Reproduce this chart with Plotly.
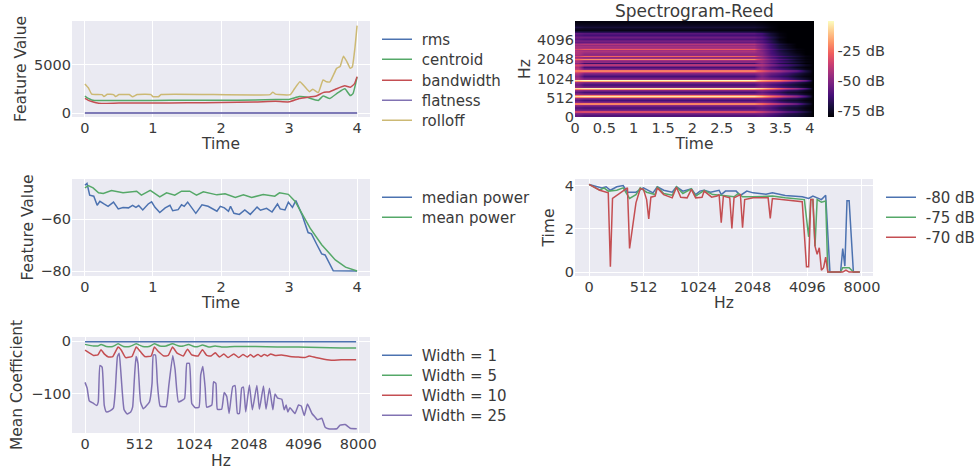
import plotly.graph_objects as go
from plotly.colors import sequential

W, H = 974, 471
BLUE, GREEN, RED, PURPLE, GOLD = "#4C72B0", "#55A868", "#C44E52", "#8172B2", "#CCB974"
TXT = "#3a3a3a"
FONT = "DejaVu Sans"

# ---- panel 1: spectral features over time
t_rolloff = [0, .05, .1, .25, .28, .33, .42, .45, .5, .65, .7, .77, .97, 1.0, 1.08, 1.12, 2.72, 2.76, 2.8, 2.85, 3.02, 3.08, 3.16, 3.22, 3.3, 3.35, 3.43, 3.5, 3.55, 3.6, 3.7, 3.75, 3.8, 3.85, 3.9, 3.93, 3.97, 4.0]
rolloff = [3000, 2600, 1950, 1900, 1700, 1930, 1900, 1700, 1900, 1900, 1680, 1900, 1900, 1680, 1680, 1900, 1900, 2150, 1950, 1900, 1900, 2500, 3230, 2800, 2200, 2450, 2100, 3400, 3230, 3200, 4600, 4800, 5850, 5300, 4600, 4760, 6800, 9000]
t_bandwidth = [0, .05, .1, .2, .5, 1, 1.5, 2, 2.5, 2.8, 3, 3.15, 3.25, 3.4, 3.5, 3.6, 3.7, 3.82, 3.9, 3.96, 4]
bandwidth = [1500, 1300, 1180, 1000, 1020, 1020, 1050, 1090, 1130, 1200, 1150, 1500, 1600, 1750, 2100, 2200, 2500, 2800, 2650, 3000, 3750]
t_centroid = [0, .05, .1, .2, .5, 1, 1.5, 2, 2.5, 2.8, 3, 3.15, 3.25, 3.43, 3.5, 3.6, 3.72, 3.82, 3.9, 3.94, 4]
centroid = [1750, 1500, 1350, 1280, 1300, 1300, 1320, 1310, 1340, 1400, 1400, 1700, 1650, 1300, 1750, 1500, 2100, 2500, 1800, 2000, 3700]
t_flat = [0, 4]
rms = [5, 5]
flatness = [1, 1]

# ---- panel 3: power over time
t_median = [0, .03, .07, .13, .18, .22, .28, .34, .42, .49, .56, .64, .70, .75, .79, .85, .93, .98, 1.03, 1.10, 1.18, 1.25, 1.29, 1.37, 1.42, 1.46, 1.51, 1.57, 1.63, 1.72, 1.81, 1.94, 1.99, 2.05, 2.11, 2.14, 2.19, 2.27, 2.35, 2.43, 2.53, 2.58, 2.67, 2.75, 2.83, 2.87, 2.94, 2.99, 3.05, 3.10, 3.19, 3.28, 3.33, 3.41, 3.48, 3.53, 3.58, 3.65, 4.0]
median_power = [-47, -46.3, -50.8, -51.2, -54.7, -53.2, -54.2, -55.1, -53.5, -56.1, -55.6, -55.7, -54.7, -55.5, -54.8, -56.5, -54.2, -53.4, -55.5, -57.5, -55.7, -54.7, -56.8, -56.4, -54.5, -55.1, -53.5, -55.7, -57.8, -54.5, -55.1, -57, -55.1, -55.7, -57, -55.1, -57.8, -58.2, -56.5, -58.2, -55.4, -56.6, -55.9, -57.3, -54.2, -56.1, -56.5, -53.5, -55.5, -52.9, -58.3, -65.2, -65.7, -69.9, -73.4, -73.8, -76.4, -79.9, -80]
t_mean = [0, .05, .12, .2, .27, .39, .56, .76, .83, .96, 1.10, 1.2, 1.32, 1.42, 1.54, 1.64, 1.74, 1.94, 2.06, 2.21, 2.33, 2.45, 2.62, 2.79, 2.86, 2.99, 3.09, 3.31, 3.48, 3.68, 3.83, 4.0]
mean_power = [-48, -47.1, -48, -49.9, -50.2, -49, -49.9, -49.3, -50.8, -49, -51.5, -49.9, -50.8, -49.3, -49.3, -50.8, -49.5, -50.7, -50.3, -51.7, -50.7, -51.7, -50.6, -51.2, -49.9, -50.5, -53.2, -63.5, -69.9, -75.7, -78.5, -80]

# ---- panel 4: decay time by mel bin
bin_70 = [0, 5, 9, 10, 11, 18, 19, 22, 24, 25.5, 27, 28, 29, 31, 32, 35, 39, 41, 43, 46, 48, 50, 53, 54, 57.5, 60, 61, 62, 63, 66, 67, 68, 71, 72, 73, 77, 84, 85, 86, 91, 100, 102, 103, 104, 105, 106, 107, 108, 109, 110, 111, 112, 119, 120.5, 122, 127]
db_70 = [4.05, 3.78, 3.66, .25, 3.4, 3.89, 1.09, 3.2, 3.85, 3.82, 3.35, 2.46, 3.46, 3.51, 3.89, 3.58, 3.43, 3.92, 3.46, 3.43, 3.82, 3.43, 3.46, 3.74, 3.46, 3.51, 3.58, 2.28, 3.51, 3.43, 2.02, 3.43, 3.58, 2.05, 3.35, 3.43, 3.43, 2.48, 3.4, 3.35, 3.25, .25, .25, 3.35, 3.35, 1.2, .82, 1.12, .09, .2, .69, 0, 0, .09, 0, 0]
bin_75 = [0, 5, 7, 9, 13, 16, 19, 22, 24, 27, 31, 32, 35, 39, 41, 44, 48, 50, 54, 58, 63, 68, 70, 72, 77, 86, 92, 101, 103, 104, 105, 106, 107, 109, 111, 112, 118, 119, 122, 124, 127]
db_75 = [4.05, 3.78, 3.89, 3.74, 3.78, 3.89, 3.4, 3.58, 3.89, 3.69, 3.58, 3.94, 3.63, 3.55, 3.94, 3.63, 3.85, 3.51, 3.78, 3.58, 3.54, 3.48, 3.63, 3.48, 3.48, 3.51, 3.43, 3.35, 1.63, 3.35, 3.35, 1.2, 3.35, 3.23, 3.28, 0, 0, .2, .2, 0, 0]
bin_80 = [0, 3.6, 6, 8, 10, 13, 16, 18, 22, 25.5, 28, 30, 32, 35, 39, 41, 44, 48, 50, 52, 54, 57, 61, 62, 64, 69, 71, 74, 77, 83, 86, 92, 100, 103, 105, 109, 111, 113, 118, 119, 120, 121, 122, 124, 127]
db_80 = [4.05, 3.94, 3.89, 3.94, 3.78, 3.94, 4.0, 3.69, 3.69, 3.89, 3.78, 3.66, 3.94, 3.78, 3.69, 3.94, 3.74, 3.85, 3.58, 3.74, 3.78, 3.69, 3.78, 3.58, 3.74, 3.74, 3.54, 3.74, 3.66, 3.6, 3.66, 3.54, 3.48, 3.4, 3.51, 3.35, 3.55, 0, 0, 1.09, .28, 3.3, 3.3, 0, 0]

# ---- panel 5: mean coefficient by mel bin
bin_w1 = [0, 127]
width_1 = [-1, -1]
bin_w5 = [0, 4, 6, 7.5, 10, 13, 15.5, 18, 21, 24, 27, 30, 32.5, 35, 38, 41, 44, 46, 48.5, 51, 53, 55, 58, 61, 64, 70, 80, 90, 100, 110, 120, 127]
width_5 = [-6, -9, -9, -6, -10, -10, -5, -10, -10, -5, -10, -10, -5, -9, -9, -5, -9, -9, -6, -10, -10, -7, -11, -9, -11, -10, -10, -11, -11, -12, -13, -13]
bin_w10 = [0, 2, 4, 6, 7.5, 9, 11, 13, 15.5, 17, 19, 22, 24, 26, 28, 31, 32.5, 34, 37, 39, 41, 43, 46, 48, 50, 53, 55, 57, 59, 61, 63, 65, 67, 69.7, 72, 74, 76, 77.5, 79, 81, 82.5, 84, 85.5, 87, 89, 92, 96, 100, 103, 105, 108, 112, 116, 120, 127]
width_10 = [-17, -22, -27, -26, -16, -24, -30, -29, -11, -17, -31, -29, -11, -20, -29, -28, -11, -18, -28, -27, -11, -22, -28, -15, -26, -28, -16, -27, -28, -22, -30, -24, -31, -24, -31, -25, -30, -25, -30, -25, -29, -25, -28, -24, -27, -26, -29, -30, -31, -28, -31, -34, -36, -35, -35]
bin_w25 = [0, 1, 2, 4, 5.5, 6.2, 7, 8, 9, 10, 11.7, 13.3, 14.2, 15.2, 16, 16.7, 18.3, 19.8, 21.4, 22.3, 23.1, 23.9, 24.8, 26, 27.3, 30.2, 31.4, 32, 33, 33.9, 35.2, 38, 39.2, 41.1, 42.2, 43.8, 46.6, 47.7, 48.9, 50, 51.6, 53.4, 54.2, 55.2, 56.3, 57, 59.4, 60.2, 61.3, 62, 64, 65.2, 66.4, 67.5, 69.2, 70.3, 71.4, 72.3, 73.4, 74.2, 75.3, 77, 78.4, 80.5, 81.7, 83.6, 84.8, 86.4, 88, 89, 90.3, 92.2, 93.3, 94.2, 95, 96, 98.4, 100, 101.3, 102.7, 104.2, 106.3, 107.8, 108.9, 110.9, 112.5, 114, 118, 119.5, 121.9, 124.2, 127.3]
width_25 = [-78, -89, -113, -118, -122, -115, -46, -49, -121, -134, -132, -127, -92, -29, -23, -54, -130, -138, -134, -125, -73, -29, -42, -115, -128, -115, -80, -26, -26, -80, -123, -124, -86, -27, -54, -115, -109, -42, -42, -118, -126, -125, -64, -48, -89, -125, -121, -77, -80, -129, -129, -97, -105, -137, -86, -84, -137, -137, -89, -87, -134, -83, -130, -84, -129, -85, -129, -89, -130, -100, -108, -110, -130, -121, -134, -126, -137, -121, -123, -141, -119, -137, -144, -149, -146, -163, -166, -166, -159, -158, -165, -166]

# ---- panel 2: spectrogram levels (dB) per band and time span
spec_time_edges = [0, 0.1, 0.2, 3.0, 3.1, 3.25, 3.4, 3.55, 3.7, 3.85, 4.0, 4.09]
spec_span_of_column = [0, 1, 1, 1, 2, 3, 4, 5, 6, 7, 8]
spec_bin_edges = [0, 5.7, 6.7, 8.1, 9.1, 16, 17, 18, 19, 20, 26, 27.2, 28.2, 29.3, 30.4, 36, 37.3, 38.2, 39.2, 40, 46.7, 48, 49, 49.9, 50.7, 59.3, 60.7, 61.7, 62.7, 64,
                  68.8, 71.2, 72.8, 75.2, 76.6, 78.8, 80.3, 82.3, 83.8, 85.6, 86.8, 88.6, 90, 91.8, 93.4, 95.2, 96.4, 98.2,
                  101, 103, 106, 108, 111, 113.5, 119, 122, 125, 128]
spec_db = [
    [-56, -60, -58, -62, -66, -70, -72, -76, -80],
    [-42, -42, -46, -52, -58, -64, -68, -74, -80],
    [-28, -24, -30, -40, -46, -54, -60, -68, -80],
    [-42, -42, -46, -52, -58, -64, -68, -74, -80],
    [-60, -62, -58, -62, -68, -72, -74, -78, -80],
    [-36, -36, -38, -46, -52, -58, -62, -72, -80],
    [-8, -5, -12, -24, -32, -40, -50, -66, -80],
    [-8, -5, -12, -24, -32, -40, -50, -66, -80],
    [-38, -38, -40, -46, -54, -60, -64, -72, -80],
    [-58, -62, -58, -62, -68, -72, -74, -78, -80],
    [-36, -36, -38, -44, -52, -58, -62, -72, -80],
    [-6, -4, -10, -22, -30, -40, -48, -62, -80],
    [-6, -4, -10, -22, -30, -40, -48, -62, -80],
    [-38, -38, -40, -46, -52, -60, -64, -72, -80],
    [-58, -62, -56, -62, -66, -72, -74, -78, -80],
    [-36, -36, -38, -44, -50, -58, -62, -72, -80],
    [-6, -3, -8, -18, -28, -38, -46, -60, -80],
    [-6, -3, -8, -18, -28, -38, -46, -60, -80],
    [-38, -38, -38, -44, -50, -58, -62, -72, -80],
    [-55, -63, -56, -62, -66, -70, -74, -78, -80],
    [-34, -34, -36, -40, -44, -52, -60, -68, -80],
    [-5, -1, -12, -18, -22, -32, -42, -55, -80],
    [-5, -1, -12, -18, -22, -32, -42, -55, -80],
    [-34, -34, -36, -40, -44, -52, -60, -68, -80],
    [-48, -62, -52, -60, -64, -68, -74, -78, -80],
    [-32, -36, -40, -48, -52, -58, -64, -72, -80],
    [-14, -7, -20, -32, -38, -46, -52, -68, -80],
    [-14, -7, -20, -32, -38, -46, -52, -68, -80],
    [-32, -38, -42, -50, -54, -60, -64, -74, -80],
    [-42, -62, -50, -60, -66, -70, -76, -79, -80],
    [-24, -19, -33, -42, -50, -56, -62, -72, -80],
    [-50, -64, -50, -60, -68, -72, -76, -80, -80],
    [-32, -30, -38, -48, -54, -60, -68, -76, -80],
    [-52, -68, -52, -62, -70, -74, -78, -80, -80],
    [-24, -19, -38, -50, -58, -64, -72, -78, -80],
    [-55, -70, -54, -64, -72, -76, -78, -80, -80],
    [-34, -26, -42, -54, -60, -66, -72, -78, -80],
    [-54, -68, -55, -64, -72, -76, -78, -80, -80],
    [-30, -28, -44, -56, -62, -68, -74, -80, -80],
    [-52, -64, -54, -66, -72, -76, -80, -80, -80],
    [-30, -24, -44, -56, -64, -70, -76, -80, -80],
    [-50, -60, -56, -66, -74, -78, -80, -80, -80],
    [-34, -28, -46, -58, -66, -72, -78, -80, -80],
    [-50, -56, -56, -66, -74, -78, -80, -80, -80],
    [-36, -32, -48, -60, -68, -74, -80, -80, -80],
    [-50, -54, -56, -66, -74, -78, -80, -80, -80],
    [-42, -40, -50, -62, -70, -76, -80, -80, -80],
    [-56, -56, -60, -68, -76, -80, -80, -80, -80],
    [-50, -50, -56, -66, -76, -80, -80, -80, -80],
    [-58, -60, -62, -70, -78, -80, -80, -80, -80],
    [-54, -54, -58, -68, -76, -80, -80, -80, -80],
    [-60, -62, -64, -72, -78, -80, -80, -80, -80],
    [-56, -58, -62, -72, -78, -80, -80, -80, -80],
    [-77, -77, -78, -79, -80, -80, -80, -80, -80],
    [-70, -72, -74, -78, -80, -80, -80, -80, -80],
    [-76, -76, -77, -79, -80, -80, -80, -80, -80],
    [-78, -78, -79, -80, -80, -80, -80, -80, -80],
]
spec_z = [[row[s] for s in spec_span_of_column] for row in spec_db]

mel_tickvals = [0, 25.6, 51.2, 76.8, 102.4, 128]
mel_ticktext = ["0", "512", "1024", "2048", "4096", "8000"]
spec_y_tickvals = [0, 25.6, 51.2, 76.8, 102.4]
spec_y_ticktext = ["0", "512", "1024", "2048", "4096"]
spec_x_tickvals = [0, .5, 1, 1.5, 2, 2.5, 3, 3.5, 4]
spec_x_ticktext = ["0", "0.5", "1", "1.5", "2", "2.5", "3", "3.5", "4"]
cb_tickvals = [-25, -50, -75]
cb_ticktext = ["-25 dB", "-50 dB", "-75 dB"]


def dx(a, b):
    return [a / W, b / W]


def dy(top, bottom):
    return [1 - bottom / H, 1 - top / H]


fig = go.Figure()
legends = {}


def line(x, y, name, color, xa, ya, lx, ly, shape="linear"):
    n = len(legends) + 1
    key = "legend" if n == 1 else f"legend{n}"
    legends[key] = dict(x=lx / W, xanchor="left", y=1 - (ly - 16) / H, yanchor="top", bgcolor="rgba(0,0,0,0)",
                        font=dict(size=15, color=TXT, family=FONT), itemwidth=30, borderwidth=0)
    ln = dict(color=color, width=1.5, shape=shape)
    if shape == "spline":
        ln["smoothing"] = 0.4
    fig.add_trace(go.Scatter(x=x, y=y, name="\u00a0" + name, mode="lines", xaxis=xa, yaxis=ya, legend=key,
                             line=ln, showlegend=True))


line(t_flat, rms, "rms", BLUE, "x", "y", 377, 39)
line(t_centroid, centroid, "centroid", GREEN, "x", "y", 377, 59, "spline")
line(t_bandwidth, bandwidth, "bandwidth", RED, "x", "y", 377, 80, "spline")
line(t_flat, flatness, "flatness", PURPLE, "x", "y", 377, 100)
line(t_rolloff, rolloff, "rolloff", GOLD, "x", "y", 377, 120, "spline")

fig.add_trace(go.Heatmap(x=spec_time_edges, y=spec_bin_edges, z=spec_z, xaxis="x2", yaxis="y2", zsmooth="best",
                         colorscale=sequential.Magma, zmin=-80, zmax=0, showlegend=False,
                         colorbar=dict(x=828 / W, xanchor="left", y=1 - 21 / H, yanchor="top",
                                       thickness=6, thicknessmode="pixels", len=96, lenmode="pixels",
                                       xpad=0, ypad=0, outlinewidth=0, ticklen=0, tickvals=cb_tickvals,
                                       ticktext=cb_ticktext, tickfont=dict(size=14.5, color=TXT, family=FONT))))

line(t_median, median_power, "median power", BLUE, "x3", "y3", 377, 197)
line(t_mean, mean_power, "mean power", GREEN, "x3", "y3", 377, 217)

line(bin_80, db_80, "-80 dB", BLUE, "x4", "y4", 881, 197)
line(bin_75, db_75, "-75 dB", GREEN, "x4", "y4", 881, 217)
line(bin_70, db_70, "-70 dB", RED, "x4", "y4", 881, 237)

line(bin_w1, width_1, "Width = 1", BLUE, "x5", "y5", 377, 355)
line(bin_w5, width_5, "Width = 5", GREEN, "x5", "y5", 377, 375, "spline")
line(bin_w10, width_10, "Width = 10", RED, "x5", "y5", 377, 395, "spline")
line(bin_w25, width_25, "Width = 25", PURPLE, "x5", "y5", 377, 415, "spline")


def axis(domain, anchor, title, standoff, rng, **kw):
    return dict(domain=domain, anchor=anchor, range=rng, showline=False, zeroline=False, showgrid=True,
                gridcolor="white", gridwidth=1, ticks="", ticklen=0, automargin=False,
                title=dict(text=title, font=dict(size=15.5, color=TXT, family=FONT), standoff=standoff),
                tickfont=dict(size=14.5, color=TXT, family=FONT), **kw)


fig.update_layout(
    width=W, height=H, autosize=False, margin=dict(l=0, r=0, t=0, b=0, autoexpand=False),
    paper_bgcolor="white", plot_bgcolor="#EAEAF2", font=dict(family=FONT, color=TXT),
    xaxis=axis(dx(72, 370), "y", "Time", 3, [-0.19, 4.19], tickvals=[0, 1, 2, 3, 4]),
    yaxis=axis(dy(21, 117), "x", "Feature Value", 3, [-410, 9480], tickvals=[0, 5000]),
    xaxis2=axis(dx(575, 814), "y2", "Time", 3, [0, 4.07], tickvals=spec_x_tickvals, ticktext=spec_x_ticktext),
    yaxis2=axis(dy(21, 117), "x2", "Hz", 2, [0, 128], tickvals=spec_y_tickvals, ticktext=spec_y_ticktext),
    xaxis3=axis(dx(72, 370), "y3", "Time", 2, [-0.19, 4.19], tickvals=[0, 1, 2, 3, 4]),
    yaxis3=axis(dy(179, 276), "x3", "Feature Value", 2, [-81.9, -44.6], tickvals=[-60, -80]),
    xaxis4=axis(dx(575, 873), "y4", "Hz", 2, [-6.6, 133.2], tickvals=mel_tickvals, ticktext=mel_ticktext),
    yaxis4=axis(dy(179, 276), "x4", "Time", 6, [-0.18, 4.3], tickvals=[0, 2, 4]),
    xaxis5=axis(dx(72, 370), "y5", "Hz", 4, [-6.1, 133.5], tickvals=mel_tickvals, ticktext=mel_ticktext),
    yaxis5=axis(dy(337, 433), "x5", "Mean Coefficient", 4, [-174, 8], tickvals=[0, -100]),
    annotations=[dict(text="Spectrogram-Reed", xref="paper", yref="paper", x=694.5 / W, y=1 - 11 / H,
                      xanchor="center", yanchor="middle", showarrow=False,
                      font=dict(size=17, color=TXT, family=FONT))],
    **legends,
)

fig.write_html("out.html", post_script="document.body.style.margin='0';", config=dict(displayModeBar=False))
